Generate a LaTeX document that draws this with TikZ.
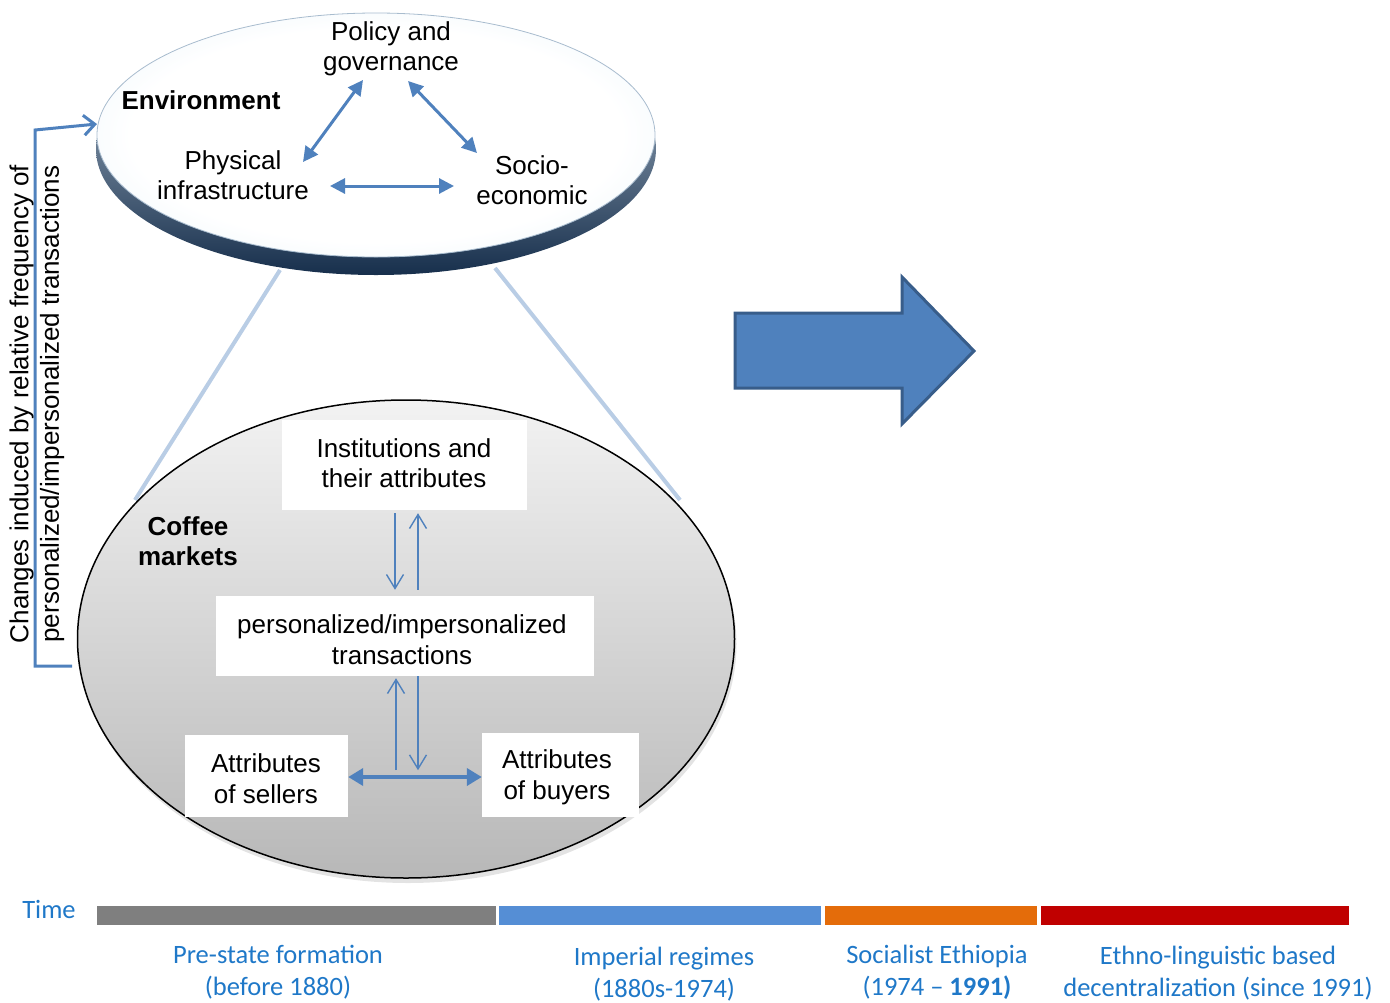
\documentclass[tikz,border=0pt]{standalone}
\usepackage{fontspec}
\setmainfont{Liberation Sans}
\newfontfamily\calfont{Carlito}
\usetikzlibrary{arrows.meta,shapes.geometric,shadows}

\definecolor{arrowblue}{HTML}{4F81BD}
\definecolor{coneblue}{HTML}{B9CDE5}
\definecolor{rimdark}{HTML}{172F4C}
\definecolor{rimlight}{HTML}{B4C4D4}
\definecolor{faceline}{HTML}{A8BCCE}
\definecolor{timeblue}{HTML}{1F78C8}
\definecolor{bargray}{HTML}{7F7F7F}
\definecolor{barblue}{HTML}{558ED5}
\definecolor{barorange}{HTML}{E46C0A}
\definecolor{barred}{HTML}{C00000}
\definecolor{bigfill}{HTML}{4F81BD}
\definecolor{bigedge}{HTML}{385D8A}

% mostly white disc face, tinted only near its border
\pgfdeclareradialshading{facewhite}{\pgfpoint{0bp}{0bp}}{%
  rgb(0bp)=(1,1,1); rgb(22bp)=(1,1,1); rgb(29bp)=(0.95,0.975,0.99);
  rgb(34bp)=(0.84,0.91,0.95); rgb(36bp)=(0.80,0.88,0.94); rgb(100bp)=(0.80,0.88,0.94)}

\tikzset{
  txt/.style={font=\fontsize{26}{30.5}\selectfont, align=center, inner sep=0pt},
  boldtxt/.style={font=\fontsize{26}{30.5}\selectfont\bfseries, align=center, inner sep=0pt},
  whitebox/.style={fill=white, draw=none, inner sep=0pt},
  tlabel/.style={font=\calfont\fontsize{26.5}{32}\selectfont, text=timeblue, align=center, inner sep=0pt},
  bar/.style={draw=none, minimum height=19pt, inner sep=0pt, anchor=north west},
  thickbi/.style={draw=arrowblue, line width=3pt,
    {Triangle[length=15pt,width=15pt]}-{Triangle[length=15pt,width=15pt]}},
  thinarr/.style={draw=arrowblue, line width=1.4pt, -{Straight Barb[length=14pt,width=17pt]}},
  cone/.style={draw=coneblue, line width=4pt},
  bracketline/.style={draw=arrowblue, line width=3pt, -{Straight Barb[length=11pt,width=20pt]}},
}

\begin{document}
\begin{tikzpicture}[x=1pt,y=-1pt]
\useasboundingbox (0,0) rectangle (1390,1002);

% cone lines joining the two ellipses
\coordinate (coneTL) at (280,270);
\coordinate (coneTR) at (495,268);
\coordinate (coneBL) at (135,500);
\coordinate (coneBR) at (680,500);
\draw[cone] (coneTL) -- (coneBL);
\draw[cone] (coneTR) -- (coneBR);

% environment disc: dark rim and light face
\node[ellipse, minimum width=560pt, minimum height=252pt, inner sep=0pt,
      top color=rimlight, bottom color=rimdark, draw=none] (rim) at (376,149) {};
\node[ellipse, minimum width=558pt, minimum height=244pt, inner sep=0pt,
      shading=facewhite, draw=faceline, line width=0.8pt] (env) at (376,135) {};

% coffee market disc
\node[ellipse, minimum width=657pt, minimum height=478pt, inner sep=0pt,
      top color=black!5, bottom color=black!28, draw=black, line width=1.5pt,
      drop shadow={opacity=0.22, shadow xshift=2pt, shadow yshift=-5pt}] (coffee) at (406,639) {};

% environment labels
\node[boldtxt] (envlbl) at (201,100) {Environment};
\node[txt] (pol) at (391,49) {Policy and\\governance};
\node[txt] (phys) at (233,175) {Physical\\infrastructure};
\node[txt] (socio) at (532,180) {Socio-\\economic};

\coordinate (polL) at (363,80);
\coordinate (polR) at (408,81);
\coordinate (physN) at (303,162);
\coordinate (socioN) at (477,153);
\coordinate (physE) at (330,186);
\coordinate (socioW) at (454,186);
\draw[thickbi] (polL) -- (physN);
\draw[thickbi] (polR) -- (socioN);
\draw[thickbi] (physE) -- (socioW);

% coffee market labels and boxes
\node[boldtxt] (cm) at (188,541) {Coffee\\markets};
\node[whitebox, minimum width=245pt, minimum height=90pt] (inst) at (404.5,465) {};
\node[whitebox, minimum width=378pt, minimum height=80pt] (trans) at (405,636) {};
\node[whitebox, minimum width=163pt, minimum height=82pt] (sell) at (266.5,776) {};
\node[whitebox, minimum width=157pt, minimum height=84pt] (buy) at (560.5,775) {};
\node[txt] (insttxt) at (404,463) {Institutions and\\their attributes};
\node[txt] (transtxt) at (402,639.5) {personalized/impersonalized\\transactions};
\node[txt] (selltxt) at (266,778.5) {Attributes\\of sellers};
\node[txt] (buytxt) at (557,777.5) {Attributes\\of buyers};

\draw[thinarr] ([xshift=-9.5pt,yshift=-3pt]inst.south) -- ([xshift=-10pt,yshift=6pt]trans.north);
\draw[thinarr] ([xshift=13pt,yshift=6pt]trans.north) -- ([xshift=13.5pt,yshift=-3pt]inst.south);
\draw[thinarr] ([xshift=-9pt]trans.south) ++(0,94) -- ([xshift=-9pt,yshift=-2pt]trans.south);
\draw[thinarr] ([xshift=13pt]trans.south) -- ++(0,94);
\draw[thickbi, line width=4pt,
      {Triangle[length=15pt,width=17pt]}-{Triangle[length=15pt,width=17pt]}]
  ([yshift=-1pt]sell.east) -- ([yshift=-2pt]buy.west);

% feedback bracket on the left
\node[txt, rotate=90] (fb) at (37,404) {Changes induced by relative frequency of\\personalized/impersonalized transactions};
\coordinate (brB) at (72,666);
\coordinate (brBL) at (35,666);
\coordinate (brTL) at (35,130);
\coordinate (brT) at (97,124);
\draw[bracketline] (brB) -- (brBL) -- (brTL) -- (brT);

% big arrow pointing forward in time
\draw[fill=bigfill, draw=bigedge, line width=3pt, line join=miter]
  (735,313) -- (902,313) -- (902,277) -- (974,351) -- (902,424) -- (902,388) -- (735,388) -- cycle;

% time line
\node[tlabel] (time) at (49,909) {Time};
\node[bar, fill=bargray, minimum width=399pt] (b1) at (97,906) {};
\node[bar, fill=barblue, minimum width=322pt] (b2) at (499,906) {};
\node[bar, fill=barorange, minimum width=212pt] (b3) at (825,906) {};
\node[bar, fill=barred, minimum width=308pt] (b4) at (1041,906) {};

\node[tlabel] (p1) at (278,972) {Pre-state formation\\(before 1880)};
\node[tlabel] (p2) at (664,974) {Imperial regimes\\(1880s-1974)};
\node[tlabel] (p3) at (937,972) {Socialist Ethiopia\\(1974 – \textbf{1991)}};
\node[tlabel] (p4) at (1218,973) {Ethno-linguistic based\\decentralization (since 1991)};
\end{tikzpicture}
\end{document}
